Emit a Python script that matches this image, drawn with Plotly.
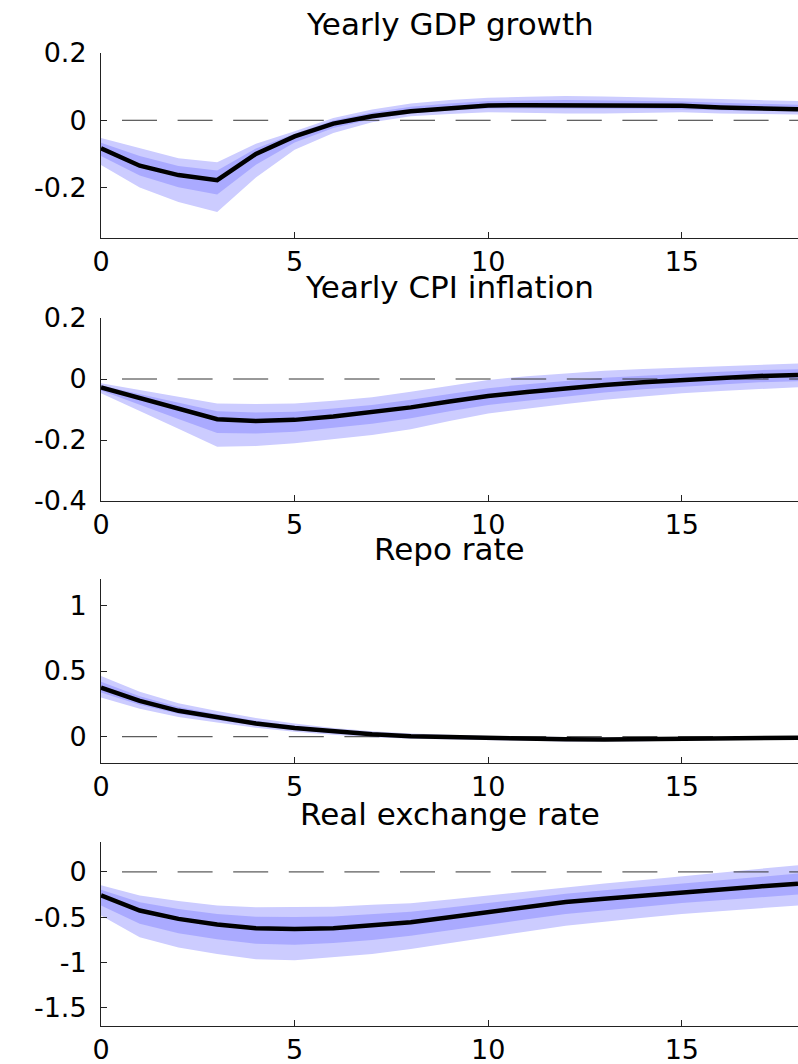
import plotly.graph_objects as go

# Horizon (quarters) and panel titles
quarters = list(range(19))
titles = ["Yearly GDP growth", "Yearly CPI inflation", "Repo rate", "Real exchange rate"]

# Yearly GDP growth: median, 90% band, 50% band
gdp_med = [-0.083, -0.135, -0.163, -0.178, -0.100, -0.048, -0.010, 0.012, 0.027, 0.037,
           0.044, 0.045, 0.045, 0.045, 0.044, 0.043, 0.038, 0.036, 0.033]
gdp_hi90 = [-0.053, -0.083, -0.113, -0.125, -0.070, -0.033, 0.007, 0.032, 0.050, 0.060,
            0.067, 0.070, 0.072, 0.071, 0.069, 0.066, 0.063, 0.060, 0.057]
gdp_lo90 = [-0.133, -0.200, -0.243, -0.273, -0.170, -0.088, -0.038, -0.006, 0.012, 0.019,
            0.024, 0.022, 0.020, 0.020, 0.021, 0.024, 0.020, 0.018, 0.017]
gdp_hi50 = [-0.067, -0.106, -0.136, -0.149, -0.084, -0.040, -0.001, 0.023, 0.040, 0.050,
            0.057, 0.059, 0.060, 0.059, 0.058, 0.056, 0.052, 0.049, 0.046]
gdp_lo50 = [-0.106, -0.164, -0.199, -0.221, -0.132, -0.066, -0.023, 0.004, 0.020, 0.029,
            0.035, 0.035, 0.034, 0.034, 0.034, 0.034, 0.030, 0.028, 0.026]

# Yearly CPI inflation
cpi_med = [-0.028, -0.063, -0.098, -0.132, -0.138, -0.134, -0.123, -0.109, -0.093, -0.074,
           -0.056, -0.043, -0.031, -0.020, -0.011, -0.003, 0.004, 0.010, 0.013]
cpi_hi90 = [-0.014, -0.036, -0.058, -0.080, -0.082, -0.080, -0.071, -0.060, -0.042, -0.022,
            -0.003, 0.009, 0.019, 0.027, 0.033, 0.038, 0.043, 0.047, 0.051]
cpi_lo90 = [-0.047, -0.105, -0.163, -0.222, -0.220, -0.211, -0.198, -0.184, -0.165, -0.138,
            -0.113, -0.097, -0.082, -0.068, -0.057, -0.047, -0.039, -0.032, -0.027]
cpi_hi50 = [-0.021, -0.050, -0.078, -0.106, -0.110, -0.107, -0.097, -0.085, -0.068, -0.048,
            -0.030, -0.017, -0.006, 0.004, 0.011, 0.018, 0.024, 0.029, 0.032]
cpi_lo50 = [-0.038, -0.084, -0.131, -0.177, -0.179, -0.173, -0.161, -0.147, -0.129, -0.106,
            -0.085, -0.070, -0.057, -0.044, -0.034, -0.025, -0.018, -0.011, -0.007]

# Repo rate
repo_med = [0.374, 0.273, 0.197, 0.147, 0.101, 0.066, 0.038, 0.018, 0.003, -0.004,
            -0.010, -0.014, -0.020, -0.022, -0.020, -0.015, -0.012, -0.010, -0.008]
repo_hi90 = [0.462, 0.343, 0.255, 0.195, 0.142, 0.100, 0.067, 0.042, 0.025, 0.013,
             0.006, 0.002, -0.004, -0.006, -0.005, -0.002, 0.000, 0.002, 0.003]
repo_lo90 = [0.298, 0.212, 0.150, 0.108, 0.068, 0.038, 0.014, -0.004, -0.016, -0.022,
             -0.026, -0.030, -0.036, -0.038, -0.035, -0.028, -0.024, -0.022, -0.020]
repo_hi50 = [0.418, 0.308, 0.226, 0.171, 0.122, 0.083, 0.052, 0.030, 0.014, 0.005,
             -0.002, -0.006, -0.012, -0.014, -0.013, -0.009, -0.006, -0.004, -0.003]
repo_lo50 = [0.336, 0.243, 0.174, 0.128, 0.085, 0.052, 0.026, 0.007, -0.007, -0.013,
             -0.018, -0.022, -0.028, -0.030, -0.028, -0.022, -0.018, -0.016, -0.014]

# Real exchange rate
rer_med = [-0.259, -0.426, -0.518, -0.581, -0.622, -0.630, -0.622, -0.593, -0.556, -0.500,
           -0.444, -0.389, -0.333, -0.296, -0.259, -0.222, -0.192, -0.160, -0.130]
rer_hi90 = [-0.148, -0.260, -0.322, -0.370, -0.390, -0.390, -0.383, -0.362, -0.345, -0.305,
            -0.259, -0.213, -0.167, -0.127, -0.088, -0.048, -0.007, 0.034, 0.074]
rer_lo90 = [-0.480, -0.720, -0.833, -0.907, -0.963, -0.975, -0.944, -0.907, -0.851, -0.787,
            -0.722, -0.657, -0.593, -0.550, -0.507, -0.463, -0.432, -0.400, -0.370]
rer_hi50 = [-0.198, -0.335, -0.410, -0.465, -0.494, -0.498, -0.491, -0.466, -0.440, -0.393,
            -0.342, -0.292, -0.242, -0.203, -0.165, -0.126, -0.090, -0.053, -0.018]
rer_lo50 = [-0.370, -0.573, -0.676, -0.744, -0.793, -0.803, -0.783, -0.750, -0.704, -0.644,
            -0.583, -0.523, -0.463, -0.423, -0.383, -0.343, -0.312, -0.280, -0.250]

# Y axis ranges and ticks per panel
y_ranges = [[-0.35, 0.2], [-0.4, 0.2], [-0.2, 1.2], [-1.7, 0.33]]
y_tickvals = [[-0.2, 0, 0.2], [-0.4, -0.2, 0, 0.2], [0, 0.5, 1], [-1.5, -1, -0.5, 0]]
y_ticktext = [["-0.2", "0", "0.2"], ["-0.4", "-0.2", "0", "0.2"], ["0", "0.5", "1"],
              ["-1.5", "-1", "-0.5", "0"]]
x_tickvals = [0, 5, 10, 15]
x_ticktext = ["0", "5", "10", "15"]

panels = [
    (gdp_med, gdp_lo90, gdp_hi90, gdp_lo50, gdp_hi50),
    (cpi_med, cpi_lo90, cpi_hi90, cpi_lo50, cpi_hi50),
    (repo_med, repo_lo90, repo_hi90, repo_lo50, repo_hi50),
    (rer_med, rer_lo90, rer_hi90, rer_lo50, rer_hi50),
]

W, H = 798, 1064
# Plot area pixel extents (top, bottom) for each panel
plot_px = [(53, 238), (318, 501), (579, 763), (842, 1026)]
title_px = [24, 287, 549, 814]
left_px = 101

LIGHT = "#CCCCFF"
DARK = "#AAAAFF"
FONT = "DejaVu Sans"

# Long-dash pattern for the zero reference line
zero_dash = "0px,21px," + ",".join(["35px,20.6px"] * 14)

fig = go.Figure()
layout = dict(
    width=W, height=H, autosize=False,
    margin=dict(l=0, r=0, t=0, b=0, pad=0, autoexpand=False),
    paper_bgcolor="white", plot_bgcolor="white",
    showlegend=False,
    font=dict(family=FONT, size=27, color="black"),
)
annotations = []

for i, (med, lo90, hi90, lo50, hi50) in enumerate(panels):
    n = i + 1
    xa = "x" if n == 1 else f"x{n}"
    ya = "y" if n == 1 else f"y{n}"

    fig.add_trace(go.Scatter(
        x=quarters + quarters[::-1], y=hi90 + lo90[::-1],
        fill="toself", fillcolor=LIGHT, line=dict(width=0), mode="lines",
        hoverinfo="skip", xaxis=xa, yaxis=ya))
    fig.add_trace(go.Scatter(
        x=quarters + quarters[::-1], y=hi50 + lo50[::-1],
        fill="toself", fillcolor=DARK, line=dict(width=0), mode="lines",
        hoverinfo="skip", xaxis=xa, yaxis=ya))
    fig.add_trace(go.Scatter(
        x=[quarters[0], quarters[-1]], y=[0, 0], mode="lines",
        line=dict(color="#333333", width=1, dash=zero_dash),
        hoverinfo="skip", xaxis=xa, yaxis=ya))
    fig.add_trace(go.Scatter(
        x=quarters, y=med, mode="lines",
        line=dict(color="black", width=4.5), xaxis=xa, yaxis=ya))

    top, bot = plot_px[i]
    dom_y = [1 - bot / H, 1 - top / H]
    axis_common = dict(
        showline=True, linecolor="#222222", linewidth=1,
        ticks="inside", ticklen=6, tickwidth=1, tickcolor="#222222",
        showgrid=False, zeroline=False, mirror=False, automargin=False,
        tickfont=dict(family=FONT, size=27, color="black"),
    )
    layout["xaxis" if n == 1 else f"xaxis{n}"] = dict(
        axis_common, domain=[left_px / W, 1.0], range=[0, 18],
        tickvals=x_tickvals, ticktext=x_ticktext, anchor=ya,
        ticklabelstandoff=0,
    )
    layout["yaxis" if n == 1 else f"yaxis{n}"] = dict(
        axis_common, domain=dom_y, range=y_ranges[i],
        tickvals=y_tickvals[i], ticktext=y_ticktext[i], anchor=xa,
        ticklabelstandoff=8,
    )
    annotations.append(dict(
        text=titles[i], xref=f"{xa} domain", x=0.5, yref="paper",
        y=1 - title_px[i] / H, xanchor="center", yanchor="middle",
        showarrow=False, font=dict(family=FONT, size=31, color="black"),
    ))

layout["annotations"] = annotations
fig.update_layout(**layout)
fig.write_html("out.html")
